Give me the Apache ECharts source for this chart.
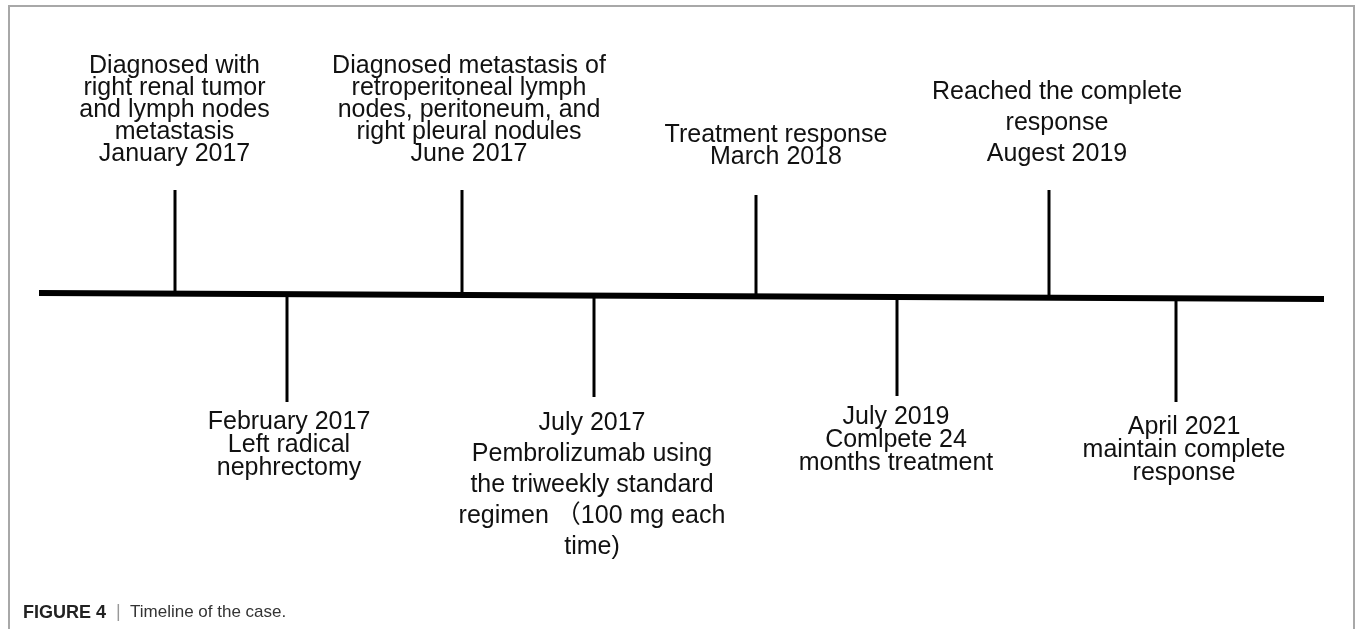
<!DOCTYPE html>
<html>
<head>
<meta charset="utf-8">
<title>Timeline of the case</title>
<script src="https://cdn.jsdelivr.net/npm/echarts@6/dist/echarts.min.js"></script>
<style>
  html, body { margin: 0; padding: 0; background: #fff; }
  #chart { width: 1355px; height: 629px; }
</style>
</head>
<body>
<div id="chart"></div>
<script>
// events in date order, alternating above / below the timeline
const eventLabels = [
  "Diagnosed with\nright renal tumor\nand lymph nodes\nmetastasis\nJanuary 2017",
  "February 2017\nLeft radical\nnephrectomy",
  "Diagnosed metastasis of\nretroperitoneal lymph\nnodes, peritoneum, and\nright pleural nodules\nJune 2017",
  "July 2017\nPembrolizumab using\nthe triweekly standard\nregimen （100 mg each\ntime)",
  "Treatment response\nMarch 2018",
  "July 2019\nComlpete 24\nmonths treatment",
  "Reached the complete\nresponse\nAugest 2019",
  "April 2021\nmaintain complete\nresponse"
];
// position along the timeline
const stemX = [136, 248, 423, 555, 717, 858, 1010, 1137];
// stem end, height above (+) or below (-) the timeline
const stemEnd = [105, -107, 105, -102, 100, -101, 105, -107];
// label anchor (centre x, near edge y)
const labelX = [135.5, 250, 430, 553, 737, 857, 1018, 1145];
const labelEdge = [130, -115.5, 130, -112.5, 127, -110.5, 125.5, -120.5];
const labelLineHeight = [22, 23, 22, 31, 22, 23, 31, 23];

// the main axis line, start and end
const mainLine = [[0, 2], [1285, -4]];

const font = "'Liberation Sans', Arial, 'Noto Sans CJK SC', sans-serif";

function lineYAt(x) {
  const a = mainLine[0], b = mainLine[1];
  return a[1] + (b[1] - a[1]) * (x - a[0]) / (b[0] - a[0]);
}

const chart = echarts.init(document.getElementById("chart"));

chart.setOption({
  animation: false,
  backgroundColor: "#fff",
  grid: { left: 39, right: 31, top: 0, bottom: 0 },
  xAxis: { type: "value", min: 0, max: 1285, show: false },
  yAxis: { type: "value", min: -334, max: 295, show: false },
  graphic: [
    {
      type: "rect",
      shape: { x: 9, y: 6, width: 1345, height: 700 },
      style: { fill: "none", stroke: "#a8a8a8", lineWidth: 2 },
      silent: true
    },
    {
      type: "text",
      left: 23,
      top: 604,
      style: { text: "FIGURE 4", fill: "#222", font: "bold 18px " + font }
    },
    {
      type: "text",
      left: 116,
      top: 603,
      style: { text: "|", fill: "#999", font: "18px " + font }
    },
    {
      type: "text",
      left: 130,
      top: 604,
      style: { text: "Timeline of the case.", fill: "#333", font: "17px " + font }
    }
  ],
  series: [
    {
      type: "line",
      data: mainLine,
      symbol: "none",
      silent: true,
      lineStyle: { color: "#000", width: 6 }
    },
    {
      type: "custom",
      silent: true,
      clip: false,
      data: stemX.map((x, i) => [x, stemEnd[i], labelX[i], labelEdge[i]]),
      renderItem: function (params, api) {
        const i = params.dataIndex;
        const x = api.value(0);
        const yEnd = api.value(1);
        const p0 = api.coord([x, lineYAt(x)]);
        const p1 = api.coord([x, yEnd]);
        const lp = api.coord([api.value(2), api.value(3)]);
        return {
          type: "group",
          children: [
            {
              type: "line",
              shape: { x1: p0[0], y1: p0[1], x2: p1[0], y2: p1[1] },
              style: { stroke: "#000", lineWidth: 3 }
            },
            {
              type: "text",
              x: lp[0],
              y: lp[1],
              style: {
                text: eventLabels[i],
                fill: "#111",
                fontSize: 25,
                fontFamily: font,
                align: "center",
                verticalAlign: yEnd > 0 ? "bottom" : "top",
                lineHeight: labelLineHeight[i]
              }
            }
          ]
        };
      }
    }
  ]
});
</script>
</body>
</html>
